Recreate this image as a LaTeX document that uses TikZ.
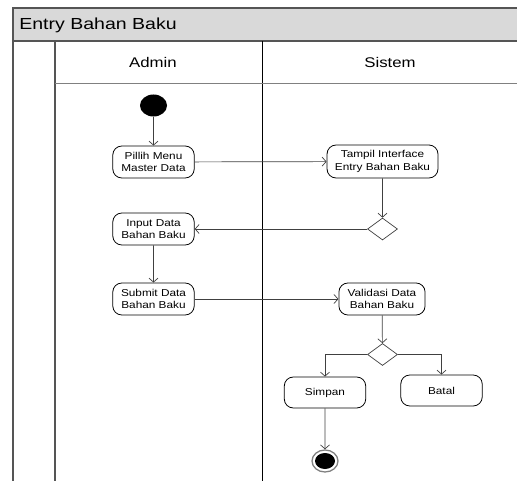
\documentclass[tikz,border=0pt]{standalone}
\usepackage{fontspec}
\setmainfont{Liberation Sans}
\usetikzlibrary{arrows.meta,shapes.geometric}
\definecolor{framegray}{HTML}{555555}
\definecolor{titlefill}{HTML}{D9D9D9}
\definecolor{linegray}{HTML}{404040}
\tikzset{
  act/.style={draw=black, line width=0.8pt, rounded corners=9pt, fill=white, align=center,
    font=\fontsize{10}{12.5}\selectfont, xscale=1.18, inner sep=0pt},
  decis/.style={draw=linegray, line width=0.7pt, diamond, aspect=1.36, minimum width=30pt,
    minimum height=22pt, inner sep=0pt, fill=white},
  flow/.style={draw=linegray, line width=0.7pt, -{Straight Barb[length=4pt,width=9pt]}},
  flowline/.style={draw=linegray, line width=0.7pt},
}
\begin{document}
\begin{tikzpicture}[x=1pt,y=-1pt]
\useasboundingbox (0,0) rectangle (517,481);
% frame
\fill[titlefill] (13,8) rectangle (518,41);
\draw[framegray, line width=1.2pt] (518,8) -- (13,8) -- (13,482);
\draw[framegray, line width=1.2pt] (13,41) -- (518,41);
\draw[framegray, line width=1.8pt] (55,41) -- (55,482);
\draw[black, line width=1pt] (262,41) -- (262,482);
\draw[gray, line width=0.8pt] (55,83) -- (518,83);
\node[anchor=west, font=\fontsize{16}{18}\selectfont, xscale=1.22] (title) at (15,25) {Entry Bahan Baku};
\node[font=\fontsize{14}{16}\selectfont, xscale=1.2] (admin) at (153,62) {Admin};
\node[font=\fontsize{14}{16}\selectfont, xscale=1.2] (sistem) at (390,62) {Sistem};
% nodes
\node[ellipse, fill=black, minimum width=27pt, minimum height=22pt, inner sep=0pt] (start) at (153.5,105.5) {};
\node[act, minimum width=69pt, minimum height=32pt] (pilih) at (153.5,162) {Pillih Menu\\Master Data};
\node[act, minimum width=94pt, minimum height=33pt] (tampil) at (382.5,161.5) {Tampil Interface\\Entry Bahan Baku};
\node[decis] (d1) at (382.5,229) {};
\node[act, minimum width=69pt, minimum height=32pt] (input) at (153.5,229) {Input Data\\Bahan Baku};
\node[act, minimum width=69pt, minimum height=32pt] (submit) at (153.5,299) {Submit Data\\Bahan Baku};
\node[act, minimum width=73pt, minimum height=32pt] (valid) at (382,299) {Validasi Data\\Bahan Baku};
\node[decis] (d2) at (382.5,354.5) {};
\node[act, minimum width=69pt, minimum height=31pt] (simpan) at (325,392.5) {Simpan};
\node[act, minimum width=69pt, minimum height=31pt] (batal) at (441.5,390.5) {Batal};
\node[ellipse, draw=gray, line width=1.3pt, fill=white, minimum width=26pt, minimum height=22pt, inner sep=0pt] (endo) at (325,461) {};
\node[ellipse, fill=black, minimum width=20pt, minimum height=16pt, inner sep=0pt] (endi) at (325,461) {};
% connectors
\draw[flow] (start) -- (pilih);
\draw[flow] (pilih) -- (tampil);
\draw[flow] (tampil) -- (d1);
\draw[flow] (d1) -- (input);
\draw[flow] (input) -- (submit);
\draw[flow] (submit) -- (valid);
\draw[flow] (valid) -- (d2);
\draw[flow] (d2.west) -| (simpan.north);
\draw[flow] (d2.east) -| (batal.north);
\draw[flow] (simpan) -- (endo);
\end{tikzpicture}
\end{document}
